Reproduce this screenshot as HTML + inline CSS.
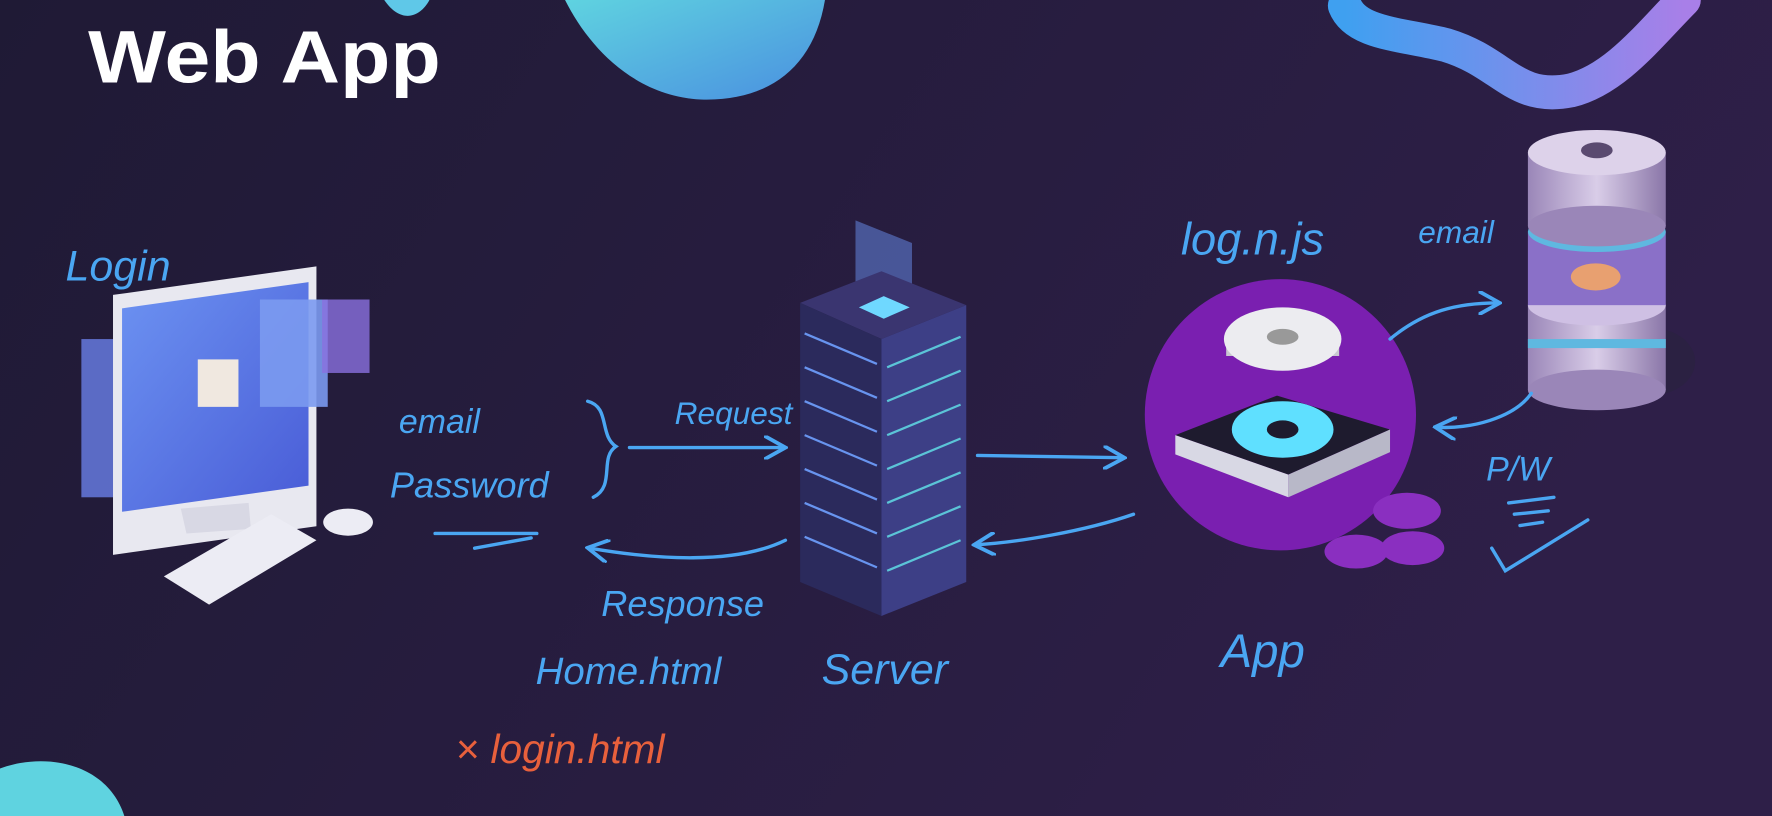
<!DOCTYPE html>
<html><head><meta charset="utf-8"><style>
html,body{margin:0;padding:0;width:1772px;height:816px;overflow:hidden;background:#231b38}
svg{display:block}
.h{font-family:"Liberation Sans",sans-serif;fill:#4aa6f2;font-style:italic}
</style></head><body>
<svg width="1772" height="816" viewBox="0 0 1568 722" preserveAspectRatio="none">
<defs>
<linearGradient id="bg" x1="0" y1="0" x2="1" y2="0.3"><stop offset="0" stop-color="#1f1a35"/><stop offset="1" stop-color="#2e1f48"/></linearGradient>
<linearGradient id="blob" x1="0" y1="0" x2="1" y2="1"><stop offset="0" stop-color="#5fd3e0"/><stop offset="1" stop-color="#4a8fe0"/></linearGradient>
<linearGradient id="wave" x1="0" y1="0" x2="1" y2="0"><stop offset="0" stop-color="#3fa0f0"/><stop offset="1" stop-color="#a87fe8"/></linearGradient>
<linearGradient id="scr" x1="0" y1="0" x2="1" y2="1"><stop offset="0" stop-color="#6a8ff0"/><stop offset="1" stop-color="#4b5fd8"/></linearGradient>
<linearGradient id="db" x1="0" y1="0" x2="1" y2="0"><stop offset="0" stop-color="#9a86b8"/><stop offset="0.5" stop-color="#d9cde8"/><stop offset="1" stop-color="#8a76a8"/></linearGradient>
<marker id="a" viewBox="0 0 10 10" refX="8" refY="5" markerWidth="7" markerHeight="7" orient="auto"><path d="M0,0L9,5L0,10" fill="none" stroke="#4aa6f2" stroke-width="1.6"/></marker>
</defs>
<rect width="1568" height="722" fill="url(#bg)"/>
<path d="M500,0 C520,40 560,85 620,88 C680,90 720,60 730,0 Z" fill="url(#blob)"/>
<path d="M340,0 L380,0 C372,15 355,22 340,0Z" fill="#5fc8e8"/>
<path d="M1190,5 C1200,30 1240,30 1280,40 C1330,55 1340,90 1390,80 C1430,70 1460,30 1490,0" fill="none" stroke="url(#wave)" stroke-width="30" stroke-linecap="round"/>
<path d="M0,680 C40,665 95,675 110,722 L0,722Z" fill="#5fd3e0"/>
<text x="78" y="73" font-family="Liberation Sans,sans-serif" font-weight="bold" font-size="66" fill="#fff" textLength="312" lengthAdjust="spacingAndGlyphs">Web App</text>
<rect x="72" y="300" width="75" height="140" fill="#6a7fe8" opacity="0.8"/>
<rect x="100" y="245" width="180" height="230" fill="#e8e8f0" transform="skewY(-8) translate(0,30)"/>
<rect x="108" y="258" width="165" height="180" fill="url(#scr)" transform="skewY(-8) translate(0,30)"/>
<rect x="175" y="318" width="36" height="42" fill="#f0e8e0"/>
<rect x="230" y="265" width="60" height="95" fill="#7b9af0" opacity="0.9"/>
<rect x="285" y="265" width="42" height="65" fill="#8a70e0" opacity="0.8"/>
<path d="M160,450 L220,445 L222,468 L165,472Z" fill="#d8d8e4"/>
<path d="M145,510 L240,455 L280,478 L185,535Z" fill="#ececf4"/>
<ellipse cx="308" cy="462" rx="22" ry="12" fill="#ececf4"/>
<path d="M757,195 L807,215 L807,275 L757,255Z" fill="#6a8ff0" opacity="0.5"/>
<path d="M708,268 L780,240 L855,270 L780,300Z" fill="#3a3570"/>
<path d="M708,268 L780,300 L780,545 L708,515Z" fill="#2b2a5c"/>
<path d="M780,300 L855,270 L855,515 L780,545Z" fill="#3d3f86"/>
<g stroke="#6fa0ff" stroke-width="2" opacity="0.9">
<path d="M712,295 L776,322M712,325 L776,352M712,355 L776,382M712,385 L776,412M712,415 L776,442M712,445 L776,472M712,475 L776,502"/>
<path d="M785,325 L850,298M785,355 L850,328M785,385 L850,358M785,415 L850,388M785,445 L850,418M785,475 L850,448M785,505 L850,478" stroke="#5fd3e0"/>
</g>
<path d="M760,272 L782,262 L805,272 L782,282Z" fill="#6fd8ff"/>
<circle cx="1133" cy="367" r="120" fill="#7a1fb0"/>
<path d="M1040,385 L1130,350 L1230,380 L1140,420Z" fill="#1e1b2e"/>
<path d="M1040,385 L1140,420 L1140,440 L1040,402Z" fill="#d8d8e4"/>
<path d="M1140,420 L1230,380 L1230,400 L1140,440Z" fill="#b8b8c8"/>
<ellipse cx="1135" cy="380" rx="45" ry="25" fill="#5fe0ff"/>
<ellipse cx="1135" cy="380" rx="14" ry="8" fill="#1e1b2e"/>
<path d="M1085,315 L1185,315 L1185,300 L1085,300Z" fill="#c8c8d0"/>
<ellipse cx="1135" cy="300" rx="52" ry="28" fill="#ececf0"/>
<ellipse cx="1135" cy="298" rx="14" ry="7" fill="#999"/>
<g fill="#8a2fc0"><ellipse cx="1245" cy="452" rx="30" ry="16"/><ellipse cx="1200" cy="488" rx="28" ry="15"/><ellipse cx="1250" cy="485" rx="28" ry="15"/></g>
<ellipse cx="1460" cy="320" rx="40" ry="30" fill="#2a2340" opacity="0.6"/>
<rect x="1352" y="270" width="122" height="75" fill="url(#db)"/><ellipse cx="1413" cy="345" rx="61" ry="18" fill="#9a86b8"/><ellipse cx="1413" cy="270" rx="61" ry="18" fill="#cfc0e4"/>
<rect x="1352" y="300" width="122" height="8" fill="#5fb8e0"/>
<rect x="1352" y="205" width="122" height="65" fill="#8a70c8"/><ellipse cx="1413" cy="205" rx="61" ry="18" fill="#5fb8e0"/>
<ellipse cx="1412" cy="245" rx="22" ry="12" fill="#e8a070"/>
<rect x="1352" y="135" width="122" height="65" fill="url(#db)"/><ellipse cx="1413" cy="200" rx="61" ry="18" fill="#9a86b8"/><ellipse cx="1413" cy="135" rx="61" ry="20" fill="#ddd2ea"/><ellipse cx="1413" cy="133" rx="14" ry="7" fill="#5a4a70"/>
<g fill="none" stroke="#4aa6f2" stroke-width="3" stroke-linecap="round">
<path d="M557,396 L693,396" marker-end="url(#a)"/>
<path d="M385,472 L475,472 M420,485 L470,476"/>
<path d="M695,478 C650,500 580,495 522,485" marker-end="url(#a)"/>
<path d="M520,355 C540,360 530,385 545,395 C530,405 545,430 525,440"/>
<path d="M865,403 L993,405" marker-end="url(#a)"/>
<path d="M1003,455 C960,470 900,480 864,482" marker-end="url(#a)"/>
<path d="M1230,300 C1260,275 1290,268 1325,268" marker-end="url(#a)"/>
<path d="M1355,348 C1340,370 1300,380 1272,378" marker-end="url(#a)"/>
<path d="M1335,445 L1375,440 M1340,455 L1370,452 M1345,465 L1365,462"/>
<path d="M1320,485 L1332,505 L1405,460"/>
</g>
<g class="h">
<text x="58" y="248" font-size="38">Login</text>
<text x="353" y="383" font-size="30">email</text>
<text x="345" y="440" font-size="32">Password</text>
<text x="597" y="375" font-size="28">Request</text>
<text x="532" y="545" font-size="32">Response</text>
<text x="474" y="605" font-size="34">Home.html</text>
<text x="727" y="605" font-size="38">Server</text>
<text x="1080" y="590" font-size="42">App</text>
<text x="1045" y="225" font-size="40">log.n.js</text>
<text x="1255" y="215" font-size="28">email</text>
<text x="1315" y="425" font-size="30">P/W</text>
</g>
<text x="403" y="675" font-family="Liberation Sans,sans-serif" font-style="italic" font-size="36" fill="#e8603c">× login.html</text>
</svg>
</body></html>
